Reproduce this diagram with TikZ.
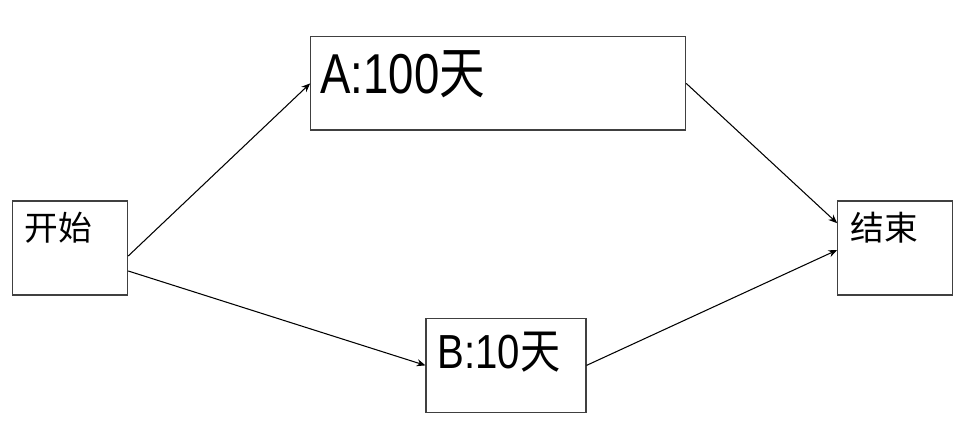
\documentclass[tikz,border=0pt]{standalone}
\usepackage{fontspec}
\setmainfont{Liberation Sans}
\newfontfamily\cjk{Noto Sans CJK SC}
\usetikzlibrary{arrows.meta}

\tikzset{
  box/.style={draw=black!75, line width=0.75pt, inner sep=0pt},
  txt/.style={anchor=west, inner sep=0pt},
  flow/.style={line width=0.75pt, black, -{Stealth[length=2.2mm,width=1.8mm]}}
}

\begin{document}
\begin{tikzpicture}
  \useasboundingbox (0,0) rectangle (24.35,10.975);
  % start box
  \node [box, minimum width=2.875cm, minimum height=2.35cm] (start) at (1.755,4.775) {};
  \node [txt, font=\cjk\fontsize{24pt}{24pt}\selectfont] (starttxt) at ([shift={(0.31,-0.675)}]start.north west) {开始};
  % task A
  \node [box, minimum width=9.375cm, minimum height=2.33cm] (a) at (12.455,8.89) {};
  \node [txt, xscale=0.81, font=\fontsize{40pt}{40pt}\selectfont] (atxt) at ([shift={(0.25,-0.96)}]a.north west) {A:100{\cjk 天}};
  % task B
  \node [box, minimum width=4.0cm, minimum height=2.35cm] (b) at (12.65,1.84) {};
  \node [txt, xscale=0.84, font=\fontsize{34pt}{34pt}\selectfont] (btxt) at ([shift={(0.3,-0.86)}]b.north west) {B:10{\cjk 天}};
  % finish box
  \node [box, minimum width=2.875cm, minimum height=2.35cm] (finish) at (22.38,4.775) {};
  \node [txt, font=\cjk\fontsize{24pt}{24pt}\selectfont] (finishtxt) at ([shift={(0.325,-0.675)}]finish.north west) {结束};
  % arrows
  \draw [flow] ([yshift=-0.2cm]start.east) -- (a.west);
  \draw [flow] ([yshift=-0.575cm]start.east) -- (b.west);
  \draw [flow] (a.east) -- ([yshift=0.62cm]finish.west);
  \draw [flow] (b.east) -- ([yshift=-0.05cm]finish.west);
\end{tikzpicture}
\end{document}
